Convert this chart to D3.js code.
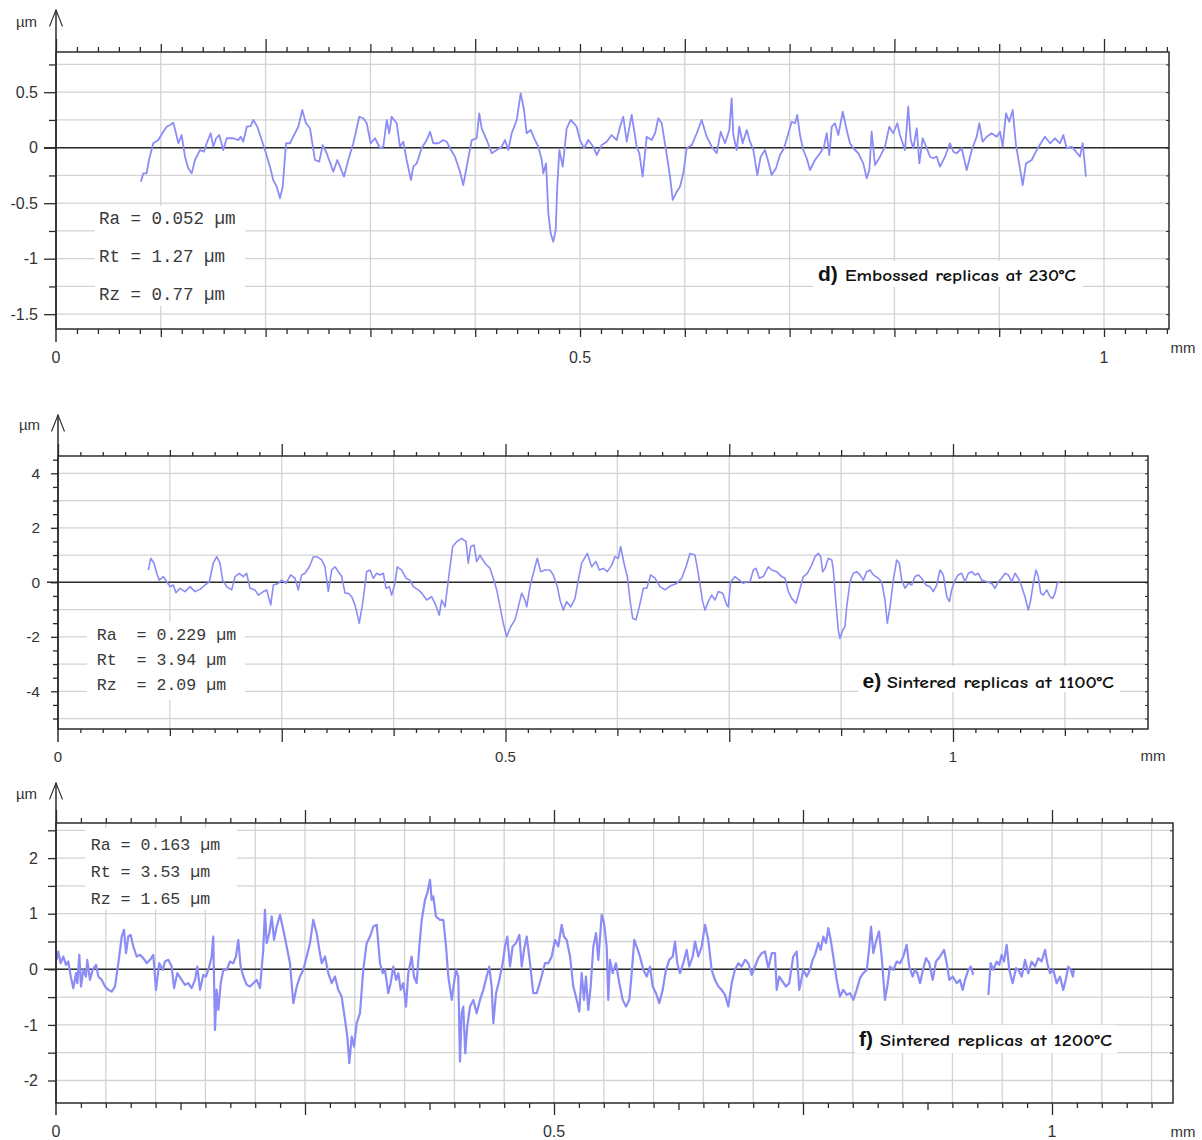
<!DOCTYPE html>
<html>
<head>
<meta charset="utf-8">
<script src="https://cdn.jsdelivr.net/npm/d3@7"></script>
<style>
  html, body { margin: 0; padding: 0; background: #fff; }
  svg { display: block; }
</style>
</head>
<body>
<svg id="chart" width="1202" height="1140"></svg>
<script>
// ---- Roughness profiles: [position along the trace (mm), height (µm)] ----
const profileEmbossed230 = [
  [0.0811,-0.306],[0.0833,-0.231],[0.0865,-0.231],[0.0887,-0.111],[0.0928,0.040],[0.0976,0.069],[0.1024,0.144],[0.1056,0.189],[0.1088,0.204],[0.1119,0.225],
  [0.1145,0.130],[0.1167,0.040],[0.1199,0.114],[0.1231,-0.081],[0.1262,-0.186],[0.1295,-0.231],[0.1326,-0.111],[0.1374,-0.021],[0.1412,-0.036],[0.1438,0.040],
  [0.1476,0.130],[0.1501,0.009],[0.1527,0.085],[0.1558,0.114],[0.1596,-0.021],[0.1629,0.085],[0.1692,0.085],[0.1740,0.069],[0.1762,0.099],[0.1787,0.054],
  [0.1820,0.189],[0.1858,0.195],[0.1883,0.250],[0.1921,0.189],[0.1947,0.114],[0.1994,-0.021],[0.2042,-0.171],[0.2073,-0.291],[0.2106,-0.351],[0.2137,-0.456],
  [0.2163,-0.351],[0.2195,0.040],[0.2233,0.040],[0.2264,0.099],[0.2312,0.189],[0.2350,0.340],[0.2385,0.220],[0.2424,0.175],[0.2471,-0.111],[0.2512,-0.126],
  [0.2545,0.024],[0.2583,-0.050],[0.2646,-0.216],[0.2684,-0.111],[0.2710,-0.171],[0.2748,-0.261],[0.2789,-0.111],[0.2837,0.040],[0.2894,0.279],[0.2932,0.265],
  [0.2965,0.220],[0.3003,0.040],[0.3044,0.085],[0.3092,-0.005],[0.3123,0.009],[0.3156,0.250],[0.3180,0.130],[0.3203,0.279],[0.3251,0.220],[0.3282,0.009],
  [0.3314,0.054],[0.3346,-0.111],[0.3387,-0.291],[0.3409,-0.171],[0.3442,-0.141],[0.3489,-0.005],[0.3537,0.069],[0.3569,0.144],[0.3600,0.040],[0.3648,0.040],
  [0.3696,0.069],[0.3728,0.054],[0.3760,-0.005],[0.3807,-0.081],[0.3855,-0.216],[0.3886,-0.336],[0.3919,-0.171],[0.3967,0.069],[0.4014,0.085],[0.4039,0.310],
  [0.4062,0.175],[0.4110,0.069],[0.4157,-0.050],[0.4205,-0.021],[0.4253,0.009],[0.4284,0.069],[0.4316,-0.021],[0.4348,0.130],[0.4396,0.250],[0.4434,0.490],
  [0.4466,0.340],[0.4491,0.130],[0.4530,0.159],[0.4571,0.069],[0.4602,0.009],[0.4635,-0.111],[0.4650,-0.231],[0.4676,-0.141],[0.4698,-0.591],[0.4720,-0.771],
  [0.4745,-0.847],[0.4768,-0.741],[0.4783,-0.351],[0.4803,-0.021],[0.4835,-0.171],[0.4873,0.175],[0.4911,0.250],[0.4943,0.220],[0.4968,0.189],[0.5000,0.069],
  [0.5038,-0.005],[0.5079,0.069],[0.5127,0.009],[0.5159,-0.066],[0.5207,0.024],[0.5255,0.054],[0.5302,0.114],[0.5350,0.069],[0.5382,0.189],[0.5413,0.279],
  [0.5446,0.054],[0.5493,0.295],[0.5541,0.009],[0.5566,-0.050],[0.5598,-0.261],[0.5636,0.099],[0.5684,0.069],[0.5716,0.130],[0.5747,0.265],[0.5780,0.220],
  [0.5821,-0.021],[0.5859,-0.261],[0.5885,-0.471],[0.5923,-0.396],[0.5954,-0.351],[0.5986,-0.231],[0.6018,-0.005],[0.6066,0.024],[0.6114,0.130],[0.6161,0.250],
  [0.6209,0.099],[0.6257,0.009],[0.6304,-0.050],[0.6343,0.144],[0.6384,0.040],[0.6425,0.159],[0.6447,0.445],[0.6463,0.114],[0.6495,-0.021],[0.6520,0.189],
  [0.6552,0.040],[0.6591,0.159],[0.6622,0.054],[0.6654,-0.021],[0.6692,-0.246],[0.6724,-0.081],[0.6765,-0.021],[0.6797,-0.126],[0.6829,-0.246],[0.6870,-0.186],
  [0.6908,-0.066],[0.6947,-0.005],[0.6988,0.130],[0.7020,0.234],[0.7052,0.220],[0.7073,0.295],[0.7099,0.114],[0.7131,-0.021],[0.7163,-0.095],[0.7195,-0.201],
  [0.7242,-0.111],[0.7290,-0.050],[0.7328,0.009],[0.7354,0.130],[0.7379,-0.066],[0.7402,0.189],[0.7433,0.220],[0.7465,0.114],[0.7507,0.324],[0.7545,0.159],
  [0.7576,0.040],[0.7608,-0.005],[0.7656,-0.050],[0.7703,-0.141],[0.7736,-0.276],[0.7761,-0.201],[0.7783,0.144],[0.7815,-0.156],[0.7863,-0.081],[0.7910,0.009],
  [0.7951,0.189],[0.7989,0.130],[0.8028,0.220],[0.8053,0.114],[0.8101,-0.021],[0.8132,0.369],[0.8156,0.069],[0.8180,-0.005],[0.8213,0.175],[0.8238,-0.141],
  [0.8270,0.085],[0.8302,0.009],[0.8340,-0.081],[0.8371,-0.095],[0.8404,-0.081],[0.8435,-0.171],[0.8483,-0.081],[0.8530,0.040],[0.8562,-0.036],[0.8594,-0.050],
  [0.8642,-0.005],[0.8690,-0.201],[0.8738,-0.021],[0.8785,0.099],[0.8810,0.220],[0.8842,0.054],[0.8881,0.099],[0.8928,0.130],[0.8976,0.099],[0.9008,0.144],
  [0.9033,0.009],[0.9065,0.310],[0.9096,0.234],[0.9129,0.340],[0.9160,0.024],[0.9198,-0.186],[0.9224,-0.336],[0.9256,-0.141],[0.9310,-0.111],[0.9358,-0.021],
  [0.9406,0.054],[0.9437,0.099],[0.9485,0.040],[0.9532,0.085],[0.9580,0.040],[0.9612,0.114],[0.9644,-0.005],[0.9692,0.009],[0.9733,-0.036],[0.9771,-0.081],
  [0.9797,0.040],[0.9828,-0.261]
];

const profileSintered1100 = [
  [0.1009,0.45],[0.1036,0.88],[0.1073,0.70],[0.1103,0.33],[0.1132,0.08],[0.1177,0.21],[0.1215,0.02],[0.1251,-0.16],[0.1288,-0.10],[0.1318,-0.38],
  [0.1363,-0.22],[0.1419,-0.34],[0.1475,-0.16],[0.1531,-0.34],[0.1587,-0.26],[0.1642,-0.10],[0.1691,0.02],[0.1735,0.70],[0.1773,0.94],[0.1810,0.70],
  [0.1840,0.08],[0.1885,-0.16],[0.1941,-0.28],[0.1978,0.21],[0.2026,0.33],[0.2070,0.21],[0.2108,0.33],[0.2145,-0.22],[0.2201,-0.28],[0.2238,-0.47],
  [0.2294,-0.34],[0.2332,-0.28],[0.2377,-0.83],[0.2406,-0.10],[0.2461,-0.04],[0.2499,0.08],[0.2547,-0.04],[0.2600,0.27],[0.2648,0.15],[0.2685,-0.28],
  [0.2723,0.27],[0.2760,0.33],[0.2808,0.57],[0.2853,0.94],[0.2891,0.94],[0.2946,0.82],[0.2983,0.57],[0.3020,-0.34],[0.3058,0.45],[0.3095,0.57],
  [0.3132,0.39],[0.3170,0.21],[0.3207,-0.40],[0.3244,-0.40],[0.3282,-0.53],[0.3318,-0.83],[0.3366,-1.50],[0.3404,-0.77],[0.3449,0.39],[0.3486,0.45],
  [0.3523,0.15],[0.3561,0.33],[0.3598,0.27],[0.3635,0.33],[0.3665,-0.22],[0.3702,-0.16],[0.3728,-0.47],[0.3765,-0.04],[0.3791,0.57],[0.3840,0.45],
  [0.3888,0.15],[0.3933,0.08],[0.3970,-0.16],[0.4026,-0.28],[0.4064,-0.40],[0.4120,-0.65],[0.4175,-0.53],[0.4212,-0.77],[0.4260,-1.20],[0.4287,-0.65],
  [0.4324,-0.90],[0.4361,0.08],[0.4410,1.31],[0.4455,1.49],[0.4511,1.61],[0.4559,1.49],[0.4584,0.70],[0.4611,1.31],[0.4648,1.37],[0.4678,0.76],
  [0.4715,1.00],[0.4771,0.70],[0.4827,0.51],[0.4864,0.15],[0.4902,-0.28],[0.4939,-0.90],[0.4975,-1.50],[0.5013,-2.00],[0.5058,-1.63],[0.5106,-1.38],
  [0.5143,-0.90],[0.5181,-0.40],[0.5218,-0.65],[0.5237,-0.90],[0.5274,-0.16],[0.5311,0.33],[0.5355,0.88],[0.5393,0.39],[0.5441,0.45],[0.5497,0.45],
  [0.5534,0.27],[0.5579,-0.16],[0.5609,-0.65],[0.5646,-1.02],[0.5684,-0.71],[0.5729,-0.90],[0.5777,-0.59],[0.5813,0.08],[0.5851,0.70],[0.5914,1.06],
  [0.5963,0.57],[0.6011,0.76],[0.6048,0.45],[0.6093,0.51],[0.6137,0.39],[0.6187,0.63],[0.6223,0.94],[0.6260,0.88],[0.6287,1.31],[0.6324,0.70],
  [0.6361,0.21],[0.6391,-0.65],[0.6421,-1.32],[0.6458,-1.38],[0.6495,-0.90],[0.6540,-0.22],[0.6578,-0.22],[0.6622,0.27],[0.6670,0.15],[0.6726,-0.16],
  [0.6782,-0.28],[0.6838,-0.14],[0.6913,-0.04],[0.6969,0.15],[0.7017,0.57],[0.7061,1.06],[0.7117,1.00],[0.7154,0.33],[0.7203,-0.71],[0.7229,-1.02],
  [0.7266,-0.71],[0.7304,-0.47],[0.7341,-0.65],[0.7378,-0.34],[0.7427,-0.40],[0.7472,-0.83],[0.7489,-0.90],[0.7516,0.02],[0.7564,0.21],[0.7612,0.08],
  [0.7657,-0.04],[0.7695,0.02],[0.7732,0.02],[0.7769,0.45],[0.7799,0.51],[0.7836,0.15],[0.7880,0.21],[0.7936,0.57],[0.7974,0.45],[0.8030,0.39],
  [0.8086,0.21],[0.8123,0.15],[0.8160,-0.34],[0.8198,-0.59],[0.8246,-0.77],[0.8283,-0.34],[0.8327,0.21],[0.8372,0.33],[0.8421,0.63],[0.8458,0.94],
  [0.8495,1.06],[0.8522,0.94],[0.8544,0.39],[0.8570,0.51],[0.8607,0.88],[0.8645,0.82],[0.8663,0.45],[0.8689,-0.65],[0.8718,-1.75],[0.8737,-2.06],
  [0.8768,-1.75],[0.8793,-1.63],[0.8812,-0.90],[0.8849,0.02],[0.8886,0.33],[0.8924,0.39],[0.8961,0.27],[0.8998,0.08],[0.9036,0.39],[0.9073,0.45],
  [0.9110,0.27],[0.9165,0.15],[0.9203,0.02],[0.9240,-0.65],[0.9266,-1.50],[0.9296,-0.90],[0.9333,0.08],[0.9371,0.82],[0.9400,0.70],[0.9427,0.08],
  [0.9464,-0.22],[0.9501,-0.04],[0.9539,-0.10],[0.9575,0.21],[0.9612,0.27],[0.9650,0.15],[0.9698,-0.10],[0.9743,-0.16],[0.9780,-0.34],[0.9818,-0.10],
  [0.9855,0.45],[0.9892,0.27],[0.9930,-0.53],[0.9959,-0.71],[0.9985,-0.28],[1.0022,0.08],[1.0059,0.27],[1.0097,0.33],[1.0134,0.02],[1.0171,0.33],
  [1.0209,0.39],[1.0246,0.27],[1.0283,0.33],[1.0321,0.08],[1.0376,0.02],[1.0432,-0.04],[1.0469,-0.22],[1.0506,0.02],[1.0544,0.15],[1.0581,0.33],
  [1.0618,0.27],[1.0656,0.02],[1.0693,0.33],[1.0730,0.15],[1.0768,-0.16],[1.0804,-0.53],[1.0842,-1.02],[1.0868,-0.65],[1.0897,-0.04],[1.0927,0.45],
  [1.0953,0.21],[1.0980,-0.40],[1.1009,-0.47],[1.1047,-0.28],[1.1084,-0.53],[1.1114,-0.59],[1.1140,-0.40],[1.1165,-0.04],[1.1188,0.02]
];

// null marks a dropout in the trace
const profileSintered1200 = [
  [0.0007,0.17],[0.0023,0.32],[0.0047,0.11],[0.0073,0.23],[0.0100,0.08],[0.0123,0.14],[0.0148,-0.13],[0.0174,-0.34],[0.0201,-0.07],[0.0214,-0.25],
  [0.0234,0.26],[0.0251,-0.31],[0.0274,-0.01],[0.0301,-0.13],[0.0314,0.17],[0.0341,-0.19],[0.0368,-0.01],[0.0402,0.08],[0.0425,-0.13],[0.0459,-0.19],
  [0.0492,-0.31],[0.0525,-0.37],[0.0559,-0.40],[0.0592,-0.31],[0.0626,0.11],[0.0660,0.59],[0.0683,0.71],[0.0703,0.29],[0.0726,0.59],[0.0750,0.62],
  [0.0776,0.41],[0.0810,0.23],[0.0843,0.26],[0.0877,0.20],[0.0911,0.11],[0.0944,0.17],[0.0977,0.26],[0.1004,-0.37],[0.1037,0.11],[0.1071,-0.01],
  [0.1094,0.14],[0.1128,0.17],[0.1162,0.05],[0.1185,-0.34],[0.1218,-0.07],[0.1262,-0.19],[0.1295,-0.28],[0.1328,-0.25],[0.1362,-0.34],[0.1396,-0.19],
  [0.1419,0.05],[0.1446,-0.37],[0.1479,-0.10],[0.1506,-0.13],[0.1539,0.05],[0.1563,0.23],[0.1579,0.59],[0.1596,-1.09],[0.1613,-0.37],[0.1630,-0.73],
  [0.1654,-0.25],[0.1680,-0.01],[0.1714,-0.01],[0.1747,0.14],[0.1780,0.11],[0.1807,0.23],[0.1830,0.53],[0.1854,0.05],[0.1881,-0.13],[0.1915,-0.28],
  [0.1948,-0.31],[0.1981,-0.25],[0.2015,-0.19],[0.2048,-0.34],[0.2081,0.35],[0.2098,1.07],[0.2115,0.47],[0.2142,0.65],[0.2166,0.95],[0.2189,0.53],
  [0.2216,0.77],[0.2249,0.98],[0.2282,0.71],[0.2316,0.41],[0.2349,0.11],[0.2383,-0.61],[0.2417,-0.31],[0.2450,-0.13],[0.2483,-0.01],[0.2517,0.23],
  [0.2550,0.47],[0.2583,0.89],[0.2617,0.65],[0.2644,0.35],[0.2668,0.11],[0.2701,0.23],[0.2734,-0.07],[0.2768,-0.25],[0.2801,-0.13],[0.2834,-0.37],
  [0.2868,-0.49],[0.2902,-0.91],[0.2925,-1.21],[0.2945,-1.69],[0.2969,-1.21],[0.2992,-1.39],[0.3019,-0.97],[0.3052,-0.79],[0.3085,-0.01],[0.3119,0.47],
  [0.3153,0.59],[0.3186,0.77],[0.3220,0.80],[0.3253,0.11],[0.3280,-0.07],[0.3303,-0.01],[0.3336,-0.43],[0.3360,-0.25],[0.3387,0.05],[0.3414,-0.19],
  [0.3437,-0.07],[0.3461,-0.37],[0.3487,-0.25],[0.3514,-0.67],[0.3537,-0.07],[0.3571,0.23],[0.3594,-0.13],[0.3621,-0.25],[0.3648,0.41],[0.3672,0.89],
  [0.3705,1.25],[0.3728,1.37],[0.3755,1.61],[0.3772,1.25],[0.3788,1.31],[0.3815,0.95],[0.3855,0.89],[0.3889,0.89],[0.3916,0.41],[0.3939,-0.13],
  [0.3973,-0.55],[0.3996,-0.25],[0.4016,-0.01],[0.4039,-0.13],[0.4056,-1.66],[0.4073,-0.79],[0.4089,-0.67],[0.4109,-1.51],[0.4129,-1.03],[0.4157,-0.67],
  [0.4190,-0.55],[0.4224,-0.79],[0.4257,-0.55],[0.4290,-0.37],[0.4324,-0.13],[0.4350,0.05],[0.4374,-0.31],[0.4391,-0.97],[0.4418,-0.43],[0.4451,-0.19],
  [0.4485,0.11],[0.4508,0.41],[0.4531,0.59],[0.4558,0.05],[0.4585,0.41],[0.4618,0.47],[0.4652,0.62],[0.4676,0.05],[0.4699,0.35],[0.4726,0.59],
  [0.4759,0.11],[0.4792,-0.43],[0.4826,-0.43],[0.4866,-0.19],[0.4910,0.11],[0.4943,0.11],[0.4977,0.23],[0.5010,0.53],[0.5043,0.41],[0.5077,0.80],
  [0.5100,0.59],[0.5127,0.53],[0.5161,0.23],[0.5194,-0.31],[0.5228,-0.55],[0.5254,-0.76],[0.5278,-0.07],[0.5301,-0.55],[0.5321,-0.13],[0.5344,-0.73],
  [0.5368,-0.31],[0.5395,0.41],[0.5422,0.65],[0.5445,0.17],[0.5479,0.98],[0.5502,0.83],[0.5529,0.41],[0.5545,-0.55],[0.5562,0.17],[0.5589,-0.07],
  [0.5622,0.11],[0.5656,-0.25],[0.5690,-0.55],[0.5723,-0.67],[0.5756,-0.55],[0.5780,-0.07],[0.5806,0.53],[0.5830,0.41],[0.5863,0.23],[0.5897,-0.01],
  [0.5931,-0.13],[0.5964,0.05],[0.5991,-0.31],[0.6024,-0.43],[0.6057,-0.61],[0.6091,-0.37],[0.6124,-0.01],[0.6158,0.17],[0.6192,0.23],[0.6215,0.50],
  [0.6238,0.11],[0.6265,-0.07],[0.6298,0.11],[0.6332,0.35],[0.6358,0.05],[0.6392,0.23],[0.6416,0.50],[0.6449,0.23],[0.6483,0.41],[0.6516,0.80],
  [0.6549,0.53],[0.6583,-0.01],[0.6616,-0.19],[0.6650,-0.31],[0.6684,-0.37],[0.6717,-0.46],[0.6750,-0.67],[0.6784,-0.25],[0.6817,-0.01],[0.6851,0.11],
  [0.6884,0.05],[0.6918,0.17],[0.6951,0.11],[0.6985,-0.10],[0.7018,0.05],[0.7051,0.20],[0.7085,0.29],[0.7118,0.32],[0.7152,0.02],[0.7186,0.29],
  [0.7219,0.29],[0.7236,-0.37],[0.7262,-0.13],[0.7296,-0.22],[0.7329,-0.31],[0.7362,-0.25],[0.7402,0.23],[0.7437,0.32],[0.7463,-0.37],[0.7503,-0.01],
  [0.7537,-0.13],[0.7570,-0.01],[0.7597,0.17],[0.7620,0.26],[0.7654,0.47],[0.7678,0.35],[0.7704,0.59],[0.7731,0.47],[0.7754,0.74],[0.7778,0.53],
  [0.7804,0.23],[0.7838,-0.19],[0.7871,-0.49],[0.7905,-0.37],[0.7939,-0.46],[0.7972,-0.43],[0.8005,-0.55],[0.8039,-0.37],[0.8072,-0.16],[0.8105,-0.07],
  [0.8140,-0.01],[0.8163,0.35],[0.8183,0.77],[0.8206,0.29],[0.8233,0.50],[0.8263,0.68],[0.8290,0.23],[0.8323,-0.55],[0.8346,-0.31],[0.8373,0.05],
  [0.8407,-0.01],[0.8441,0.14],[0.8474,0.11],[0.8507,0.23],[0.8541,0.44],[0.8567,0.05],[0.8601,-0.13],[0.8624,-0.01],[0.8648,-0.07],[0.8675,-0.25],
  [0.8708,0.02],[0.8735,0.20],[0.8768,0.11],[0.8802,-0.19],[0.8835,0.14],[0.8876,0.23],[0.8916,0.35],[0.8943,0.11],[0.8969,-0.19],[0.9003,-0.13],
  [0.9043,-0.25],[0.9076,-0.19],[0.9103,-0.37],[0.9127,-0.19],[0.9160,-0.01],[0.9184,0.05],[0.9210,-0.10],
  null,
  [0.9361,-0.46],[0.9384,0.11],[0.9411,-0.01],[0.9445,0.14],[0.9471,0.08],[0.9495,0.26],[0.9518,0.14],[0.9545,0.44],[0.9571,-0.01],[0.9605,-0.25],
  [0.9639,0.02],[0.9662,-0.01],[0.9696,-0.13],[0.9729,0.17],[0.9762,-0.07],[0.9796,0.14],[0.9829,0.05],[0.9863,0.20],[0.9896,0.14],[0.9930,0.35],
  [0.9953,0.11],[0.9980,-0.07],[1.0013,-0.01],[1.0047,-0.25],[1.0080,-0.13],[1.0113,-0.37],[1.0141,-0.16],[1.0164,0.05],[1.0188,-0.01],[1.0211,-0.13],
  [1.0218,-0.01]
];

// ---- Roughness parameters printed in each panel ----
const statsEmbossed230  = ["Ra = 0.052 µm", "Rt = 1.27 µm", "Rz = 0.77 µm"];
const statsSintered1100 = ["Ra  = 0.229 µm", "Rt  = 3.94 µm", "Rz  = 2.09 µm"];
const statsSintered1200 = ["Ra = 0.163 µm", "Rt = 3.53 µm", "Rz = 1.65 µm"];

// ---- Panel titles ----
const titleTags  = ["d)", "e)", "f)"];
const titleTexts = ["Embossed replicas at 230°C", "Sintered replicas at 1100°C", "Sintered replicas at 1200°C"];

// ---- Tick labels ----
const yTickLabelsD = [0.5, 0, -0.5, -1, -1.5];
const yTickLabelsE = [4, 2, 0, -2, -4];
const yTickLabelsF = [2, 1, 0, -1, -2];
const xTickLabels  = [0, 0.5, 1];
const xUnit = "mm";
const yUnit = "µm";

// ---- Layout of the three stacked panels ----
const panelLayouts = [
  { data: profileEmbossed230, stats: statsEmbossed230, yLabels: yTickLabelsD, idx: 0, lineWidth: 1.8,
    left: 56, right: 1169, top: 52, bottom: 329, x1: 1104, y0: 147.7, pxPerUnit: 111,
    xGrid: 0.1, xMinor: 0.02, xMedium: 0.1, xMajor: 0.2,
    topLen: [5, 8, 13], botLen: [5, 8, 8],
    yGridLo: -1.5, yGridHi: 0.75, yGridStep: 0.25, yMinor: 0.25,
    yMinorLen: 7, yMajorLen: 12, yPad: 6, yLabelSize: 16,
    axisTop: 10, axisBottom: 342, zeroFrom: 44,
    xLabelBase: 363, xLabelSize: 16, unitX: [1183, 353], unitY: [26.5, 27],
    statsBox: [95, 206, 150, 100], statsX: 99, statsBase: [224, 262, 300], statsSize: 17.5,
    titleBox: [813, 261, 270, 26], tagX: 818, textX: 845, titleBase: 281, titleW: 231 },
  { data: profileSintered1100, stats: statsSintered1100, yLabels: yTickLabelsE, idx: 1, lineWidth: 1.6,
    left: 58, right: 1148, top: 456, bottom: 729, x1: 953, y0: 582.3, pxPerUnit: 27.25,
    xGrid: 0.125, xMinor: 0.025, xMedium: 0.125, xMajor: 0.25,
    topLen: [4, 6, 12], botLen: [4, 7, 13],
    yGridLo: -5, yGridHi: 4, yGridStep: 1, yMinor: 0.5,
    yMinorLen: 5, yMajorLen: 7, yPad: 11, yLabelSize: 15.5,
    axisTop: 415, axisBottom: 742, zeroFrom: 47,
    xLabelBase: 762, xLabelSize: 15, unitX: [1153, 761], unitY: [29.5, 430],
    statsBox: [87, 622, 158, 78], statsX: 96.7, statsBase: [640, 665, 690], statsSize: 16.6,
    titleBox: [858, 666, 262, 26], tagX: 862.5, textX: 887, titleBase: 688, titleW: 227 },
  { data: profileSintered1200, stats: statsSintered1200, yLabels: yTickLabelsF, idx: 2, lineWidth: 2.2,
    left: 56, right: 1173, top: 823, bottom: 1103, x1: 1052, y0: 969.3, pxPerUnit: 55.6,
    xGrid: 0.05, xMinor: 0.025, xMedium: 0.125, xMajor: 0.25,
    topLen: [5, 7, 13], botLen: [5, 7, 12],
    yGridLo: -2, yGridHi: 2.5, yGridStep: 0.5, yMinor: 0.5,
    yMinorLen: 8, yMajorLen: 8, yPad: 10, yLabelSize: 16,
    axisTop: 783, axisBottom: 1115, zeroFrom: 44,
    xLabelBase: 1137, xLabelSize: 16, unitX: [1183, 1137], unitY: [26.5, 799],
    statsBox: [85, 828, 152, 82], statsX: 90.7, statsBase: [850, 877, 904], statsSize: 16.6,
    titleBox: [855, 1025, 262, 28], tagX: 859, textX: 880, titleBase: 1046, titleW: 232 }
];

const svg = d3.select("#chart");
const LINE_COLOR = "#8c8cf6";
const GRID_COLOR = "#d3d3d3";
const INK = "#2b2b2b";
const SANS = "'Liberation Sans', Arial, Helvetica, sans-serif";

// multiples of `step` inside [lo, hi], free of float drift
function multiples(lo, hi, step) {
  const out = [];
  for (let i = Math.ceil(lo / step - 1e-6); i * step <= hi + 1e-6; i++) out.push(+(i * step).toFixed(6));
  return out;
}
const isMultiple = (v, step) => Math.abs(v / step - Math.round(v / step)) < 1e-6;

function drawPanel(p) {
  const g = svg.append("g");
  const x = d3.scaleLinear().domain([0, 1]).range([p.left, p.x1]);
  const y = d3.scaleLinear().domain([0, 1]).range([p.y0, p.y0 - p.pxPerUnit]);
  const xEnd = x.invert(p.right);

  // grid
  const vGrid = multiples(p.xGrid, xEnd - 0.005, p.xGrid);
  g.append("g").selectAll("line").data(vGrid).join("line")
    .attr("x1", d => x(d)).attr("x2", d => x(d))
    .attr("y1", p.top).attr("y2", p.bottom)
    .attr("stroke", GRID_COLOR).attr("stroke-width", 1.3);
  const hGrid = multiples(p.yGridLo, p.yGridHi, p.yGridStep);
  g.append("g").selectAll("line").data(hGrid).join("line")
    .attr("x1", p.left).attr("x2", p.right)
    .attr("y1", d => y(d)).attr("y2", d => y(d))
    .attr("stroke", GRID_COLOR).attr("stroke-width", 1.3);

  // white panels behind the parameter block and the title
  const [bx, by, bw, bh] = p.statsBox;
  g.append("rect").attr("x", bx).attr("y", by).attr("width", bw).attr("height", bh).attr("fill", "#fff");
  const [tx, ty, tw, th] = p.titleBox;
  g.append("rect").attr("x", tx).attr("y", ty).attr("width", tw).attr("height", th).attr("fill", "#fff");

  // zero reference line
  g.append("line")
    .attr("x1", p.zeroFrom).attr("x2", p.right)
    .attr("y1", y(0)).attr("y2", y(0))
    .attr("stroke", INK).attr("stroke-width", 1.5);

  // profile trace
  const line = d3.line().defined(d => d != null).x(d => x(d[0])).y(d => y(d[1]));
  g.append("path").datum(p.data)
    .attr("d", line)
    .attr("fill", "none")
    .attr("stroke", LINE_COLOR)
    .attr("stroke-width", p.lineWidth)
    .attr("stroke-linejoin", "round");

  // frame
  g.append("rect")
    .attr("x", p.left).attr("y", p.top)
    .attr("width", p.right - p.left).attr("height", p.bottom - p.top)
    .attr("fill", "none").attr("stroke", INK).attr("stroke-width", 1.5);

  // tick rows along top and bottom edges
  const allX = multiples(0, xEnd, p.xMinor);
  const major = allX.filter(v => isMultiple(v, p.xMajor));
  const medium = allX.filter(v => !isMultiple(v, p.xMajor) && isMultiple(v, p.xMedium));
  const minor = allX.filter(v => !isMultiple(v, p.xMajor) && !isMultiple(v, p.xMedium));
  const tiers = [minor, medium, major];
  tiers.forEach((vals, i) => {
    g.append("g").attr("transform", `translate(0,${p.top})`)
      .call(d3.axisTop(x).tickValues(vals).tickSize(p.topLen[i]).tickFormat("").tickSizeOuter(0))
      .call(a => a.select(".domain").remove())
      .attr("color", INK).selectAll("line").attr("stroke-width", 1.3);
    g.append("g").attr("transform", `translate(0,${p.bottom})`)
      .call(d3.axisBottom(x).tickValues(vals.filter(v => v > 0)).tickSize(p.botLen[i]).tickFormat("").tickSizeOuter(0))
      .call(a => a.select(".domain").remove())
      .attr("color", INK).selectAll("line").attr("stroke-width", 1.3);
  });

  // vertical axis with arrow head
  g.append("line")
    .attr("x1", p.left).attr("x2", p.left)
    .attr("y1", p.axisTop).attr("y2", p.axisBottom)
    .attr("stroke", INK).attr("stroke-width", 1.5);
  g.append("path")
    .attr("d", `M${p.left - 6.5},${p.axisTop + 16.5}L${p.left},${p.axisTop}L${p.left + 6.5},${p.axisTop + 16.5}`)
    .attr("fill", "none").attr("stroke", INK).attr("stroke-width", 1.1);

  // left ticks: minor without labels, major with labels
  const yVals = multiples(p.yGridLo - 0.5, y.invert(p.top), p.yMinor).filter(v => y(v) < p.bottom - 2 && y(v) > p.top + 2);
  const yMinorVals = yVals.filter(v => !p.yLabels.includes(v));
  g.append("g").attr("transform", `translate(${p.left},0)`)
    .call(d3.axisLeft(y).tickValues(yMinorVals).tickSize(p.yMinorLen).tickFormat("").tickSizeOuter(0))
    .call(a => a.select(".domain").remove())
    .attr("color", INK).selectAll("line").attr("stroke-width", 1.3);
  const yAxisG = g.append("g").attr("transform", `translate(${p.left},0)`)
    .call(d3.axisLeft(y).tickValues(p.yLabels).tickSize(p.yMajorLen).tickPadding(p.yPad)
      .tickFormat(d => String(d)).tickSizeOuter(0))
    .call(a => a.select(".domain").remove())
    .attr("color", INK).attr("font-family", SANS).attr("font-size", p.yLabelSize);
  yAxisG.selectAll("line").attr("stroke-width", 1.3);
  yAxisG.selectAll("text").attr("fill", "#333");

  // short marks on the right edge
  g.append("g").attr("transform", `translate(${p.right},0)`)
    .call(d3.axisLeft(y).tickValues(yVals).tickSize(3).tickFormat("").tickSizeOuter(0))
    .call(a => a.select(".domain").remove())
    .attr("color", INK);

  // horizontal position labels
  g.append("g").selectAll("text").data(xTickLabels).join("text")
    .attr("x", d => x(d)).attr("y", p.xLabelBase)
    .attr("text-anchor", "middle")
    .attr("font-family", SANS).attr("font-size", p.xLabelSize).attr("fill", "#333")
    .text(d => String(d));

  // unit labels
  g.append("text").attr("x", p.unitX[0]).attr("y", p.unitX[1])
    .attr("text-anchor", "middle").attr("font-family", SANS).attr("font-size", 15).attr("fill", "#333")
    .text(xUnit);
  g.append("text").attr("x", p.unitY[0]).attr("y", p.unitY[1])
    .attr("text-anchor", "middle").attr("font-family", SANS).attr("font-size", 15).attr("fill", "#333")
    .text(yUnit);

  // roughness parameters
  g.append("g").selectAll("text").data(p.stats).join("text")
    .attr("x", p.statsX).attr("y", (d, i) => p.statsBase[i])
    .attr("xml:space", "preserve").style("white-space", "pre")
    .attr("font-family", "'Liberation Mono', 'Courier New', monospace")
    .attr("font-size", p.statsSize).attr("fill", "#3a3a3a")
    .text(d => d);

  // panel title
  g.append("text").attr("x", p.tagX).attr("y", p.titleBase)
    .attr("font-family", SANS).attr("font-weight", "bold").attr("font-size", 21).attr("fill", "#111")
    .text(titleTags[p.idx]);
  g.append("text").attr("x", p.textX).attr("y", p.titleBase)
    .attr("font-family", "'Comic Sans MS', 'Comic Neue', 'DejaVu Sans', sans-serif")
    .attr("font-weight", "bold").attr("font-size", 16).attr("fill", "#111")
    .attr("textLength", p.titleW).attr("lengthAdjust", "spacingAndGlyphs")
    .text(titleTexts[p.idx]);
}

panelLayouts.forEach(drawPanel);
</script>
</body>
</html>
